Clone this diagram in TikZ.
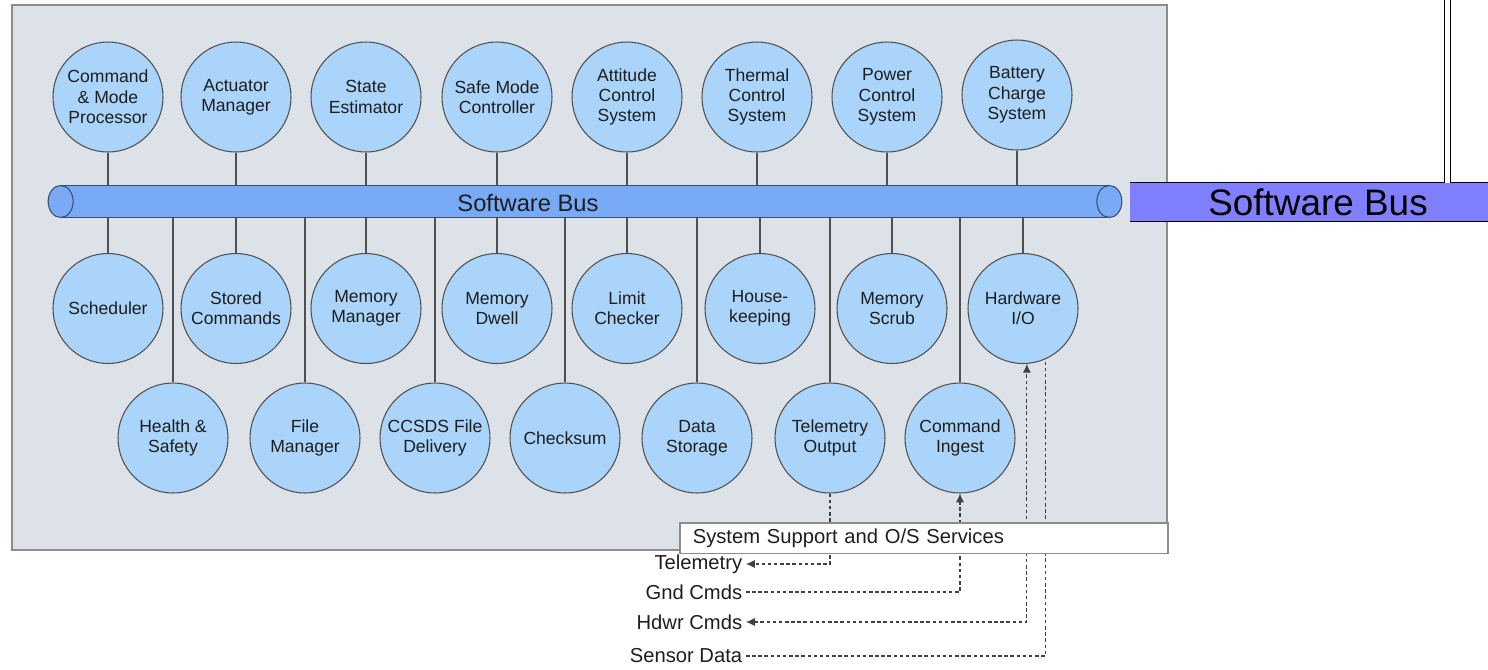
\documentclass[tikz,border=0pt]{standalone}
\usepackage{fontspec}
\setmainfont{Liberation Sans}
\usepackage{xcolor}
\usetikzlibrary{arrows.meta}

\definecolor{panelgray}{RGB}{221,225,232}
\definecolor{panelline}{RGB}{140,140,140}
\definecolor{appblue}{RGB}{170,212,250}
\definecolor{appline}{RGB}{80,80,80}
\definecolor{busblue}{RGB}{120,170,246}
\definecolor{busline}{RGB}{60,75,110}
\definecolor{buspurple}{RGB}{128,128,255}
\definecolor{txt}{RGB}{30,30,30}

\tikzset{
  app/.style={circle, draw=appline, fill=appblue, line width=0.6pt, minimum size=2.2cm,
    inner sep=0pt, align=center, text=txt, font=\fontsize{10}{11.6}\selectfont},
  busbody/.style={rectangle, fill=busblue, minimum width=20.96cm, minimum height=0.64cm, inner sep=0pt},
  extbus/.style={rectangle, fill=buspurple, minimum width=7.52cm, minimum height=0.76cm,
    inner sep=0pt, font=\fontsize{21}{24}\selectfont},
  link/.style={draw=appline, line width=0.6pt},
  flow/.style={draw=black!75, line width=0.6pt, dash pattern=on 2pt off 1.5pt},
  arr/.style={-{Latex[length=5pt,width=4.6pt]}},
  sig/.style={anchor=east, inner xsep=2pt, inner ysep=1pt, text=txt, font=\fontsize{11.5}{13}\selectfont},
  sysbox/.style={rectangle, draw=panelline, fill=white, line width=0.9pt, anchor=north west,
    text width=9.24cm, inner xsep=0.26cm, minimum height=0.56cm, align=left, text=txt,
    font=\fontsize{11.5}{13}\selectfont}
}

\begin{document}
\begin{tikzpicture}
            \useasboundingbox (0,0) rectangle (29.76,-13.38);
            \filldraw[fill=panelgray, draw=panelline, line width=0.9pt] (0.24,-0.1) rectangle (23.34,-11.0);

            \node[busbody] (bus) at (11.7,-4.03) {};
            \draw[busline, line width=0.6pt] (bus.north west) -- (bus.north east) (bus.south west) -- (bus.south east);
            \filldraw[fill=busblue, draw=busline, line width=0.6pt] (bus.west) ellipse (0.25 and 0.32);
            \filldraw[fill=busblue, draw=busline, line width=0.6pt] (bus.east) ellipse (0.25 and 0.32);
            \node[text=txt, font=\fontsize{13.5}{15}\selectfont] (buslbl) at (10.56,-4.07) {Software Bus};

            \node[app] (cmdp) at (2.16,-1.94) {Command\\\& Mode\\Processor};
            \node[app] (actm) at (4.72,-1.94) {Actuator\\Manager};
            \node[app] (stest) at (7.32,-1.94) {State\\Estimator};
            \node[app] (safem) at (9.94,-1.94) {Safe Mode\\Controller};
            \node[app] (attc) at (12.54,-1.94) {Attitude\\Control\\System};
            \node[app] (thermc) at (15.14,-1.94) {Thermal\\Control\\System};
            \node[app] (powc) at (17.74,-1.94) {Power\\Control\\System};
            \node[app] (batc) at (20.34,-1.90) {Battery\\Charge\\System};

            \node[app] (sched) at (2.16,-6.17) {Scheduler};
            \node[app] (stcmd) at (4.72,-6.17) {Stored\\Commands};
            \node[app] (memm) at (7.32,-6.17) {Memory\\Manager};
            \node[app] (memd) at (9.94,-6.17) {Memory\\Dwell};
            \node[app] (limc) at (12.54,-6.17) {Limit\\Checker};
            \node[app] (hskp) at (15.2,-6.17) {House-\\keeping};
            \node[app] (mems) at (17.84,-6.17) {Memory\\Scrub};
            \node[app] (hwio) at (20.46,-6.17) {Hardware\\I/O};

            \node[app] (hsaf) at (3.46,-8.76) {Health \&\\Safety};
            \node[app] (filem) at (6.1,-8.76) {File\\Manager};
            \node[app] (cfdp) at (8.7,-8.76) {CCSDS File\\Delivery};
            \node[app] (cksum) at (11.3,-8.76) {Checksum};
            \node[app] (dstor) at (13.94,-8.76) {Data\\Storage};
            \node[app] (tlmo) at (16.6,-8.76) {Telemetry\\Output};
            \node[app] (cmdi) at (19.2,-8.76) {Command\\Ingest};

            \foreach \n in {cmdp,actm,stest,safem,attc,thermc,powc,batc}
                \draw[link] (\n) -- (\n |- bus.north);
            \foreach \n in {sched,stcmd,memm,memd,limc,hskp,mems,hwio,hsaf,filem,cfdp,cksum,dstor,tlmo,cmdi}
                \draw[link] (\n) -- (\n |- bus.south);

            \node[extbus] (extb) at (26.36,-4.04) {Software Bus};
            \draw[black, line width=0.8pt] (extb.north west) -- (extb.north east) (extb.south west) -- (extb.south east);
            \coordinate (feed) at (28.95,0);
            \draw[black, line width=0.6pt, double=white, double distance=0.11cm] (feed) -- (feed |- extb.north);

            \node[sig] (tlm) at (14.92,-11.28) {Telemetry};
            \node[sig] (gnd) at (14.92,-11.84) {Gnd Cmds};
            \node[sig] (hwc) at (14.92,-12.44) {Hdwr Cmds};
            \node[sig] (sens) at (14.92,-13.12) {Sensor Data};

            \draw[flow, arr] (tlmo.south) |- (tlm.east);
            \draw[flow, arr] (gnd.east) -| (cmdi.south);
            \draw[flow, {Latex[length=5pt,width=4.6pt]}-{Latex[length=5pt,width=4.6pt]}] (hwc.east) -| (hwio.-86);
            \draw[flow] (sens.east) -| (hwio.-66);

            \node[sysbox] (sysserv) at (13.58,-10.44) {System Support and O/S Services};
        \end{tikzpicture}
\end{document}
